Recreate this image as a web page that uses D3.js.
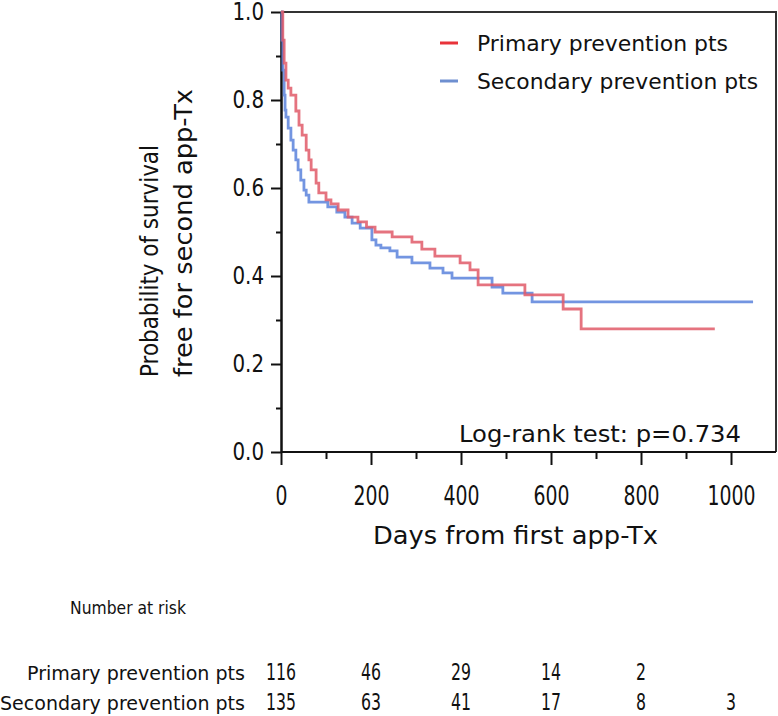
<!DOCTYPE html>
<html><head><meta charset="utf-8">
<script src="https://cdn.jsdelivr.net/npm/d3@7"></script>
<style>body{margin:0;background:#fff} svg{display:block}</style>
</head><body><svg id="c" width="778" height="716"></svg>
<script>
const seriesNames = ["Primary prevention pts", "Secondary prevention pts"];
const seriesColors = ["#e05a68", "#5a82dc"];
const legendColors = ["#e8333a", "#6e8fd0"];

const primaryDays = [0, 4, 7, 11, 16, 22, 33, 40, 47, 56, 62, 67, 78, 84, 100, 111, 127, 149, 171, 190, 209, 247, 291, 313, 342, 398, 420, 438, 542, 627, 667, 964];
const primarySurv = [1.0, 0.936, 0.884, 0.845, 0.827, 0.811, 0.775, 0.743, 0.720, 0.686, 0.664, 0.641, 0.611, 0.589, 0.573, 0.564, 0.550, 0.534, 0.523, 0.511, 0.500, 0.489, 0.477, 0.461, 0.445, 0.430, 0.414, 0.380, 0.357, 0.325, 0.280, 0.280];

const secondaryDays = [0, 2, 4, 7, 9, 11, 16, 22, 27, 33, 38, 44, 51, 56, 62, 104, 124, 142, 158, 176, 202, 211, 222, 242, 258, 291, 331, 360, 380, 469, 493, 558, 1049];
const secondarySurv = [1.0, 0.936, 0.868, 0.811, 0.777, 0.761, 0.736, 0.709, 0.686, 0.664, 0.641, 0.618, 0.595, 0.584, 0.568, 0.557, 0.545, 0.534, 0.520, 0.509, 0.482, 0.470, 0.464, 0.457, 0.443, 0.430, 0.418, 0.407, 0.395, 0.375, 0.361, 0.341, 0.341];

const xMajorTicks = [0, 200, 400, 600, 800, 1000];
const xMinorTicks = [100, 300, 500, 700, 900];
const yMajorTicks = [0, 0.2, 0.4, 0.6, 0.8, 1.0];
const yMinorTicks = [0.1, 0.3, 0.5, 0.7, 0.9];

const riskDays = [0, 200, 400, 600, 800, 1000];
const primaryRisk = [116, 46, 29, 14, 2, null];
const secondaryRisk = [135, 63, 41, 17, 8, 3];

const pValueText = "Log-rank test: p=0.734";
const xTitle = "Days from first app-Tx";
const yTitle = ["Probability of survival", "free for second app-Tx"];

const svg = d3.select("#c");
const L = 281, R = 776, T = 12, B = 452;
const x = d3.scaleLinear().domain([0, 1000]).range([L, 731]);
const y = d3.scaleLinear().domain([0, 1]).range([B, T]);

const numFont = "'DejaVu Sans Condensed','DejaVu Sans',sans-serif";
const txtFont = "'DejaVu Sans','Noto Sans',sans-serif";

function narrow(sel, perChar) {
  sel.each(function () {
    const t = d3.select(this).text();
    if (t) d3.select(this).attr("textLength", t.length * perChar).attr("lengthAdjust", "spacingAndGlyphs");
  });
}

svg.append("path").attr("d", `M${L},${T}H${R}V${B}`).attr("fill", "none").attr("stroke", "#333").attr("stroke-width", 2);

function styleAxis(g, fs) {
  g.select(".domain").attr("stroke", "#111").attr("stroke-width", 2);
  g.selectAll(".tick line").attr("stroke", "#111").attr("stroke-width", 2);
  g.selectAll(".tick text").attr("font-family", numFont).attr("font-size", fs).attr("fill", "#111");
}
const gy = svg.append("g").attr("transform", `translate(${L},0)`)
  .call(d3.axisLeft(y).tickValues(yMajorTicks).tickFormat(d3.format(".1f")).tickSize(10).tickSizeOuter(0).tickPadding(7));
styleAxis(gy, 24);
narrow(gy.selectAll(".tick text"), 10.5);
const gym = svg.append("g").attr("transform", `translate(${L},0)`)
  .call(d3.axisLeft(y).tickValues(yMinorTicks).tickFormat("").tickSize(5).tickSizeOuter(0));
styleAxis(gym, 24);
const gx = svg.append("g").attr("transform", `translate(0,${B})`)
  .call(d3.axisBottom(x).tickValues(xMajorTicks).tickFormat(d3.format("d")).tickSize(13).tickSizeOuter(0).tickPadding(22));
styleAxis(gx, 26);
narrow(gx.selectAll(".tick text"), 12);
gx.select(".domain").attr("d", `M${L},0H${R}`);
const gxm = svg.append("g").attr("transform", `translate(0,${B})`)
  .call(d3.axisBottom(x).tickValues(xMinorTicks).tickFormat("").tickSize(7).tickSizeOuter(0));
styleAxis(gxm, 26);
gxm.select(".domain").remove();

const line = d3.line().x(d => x(d[0])).y(d => y(d[1])).curve(d3.curveStepAfter);
const series = [
  d3.zip(primaryDays, primarySurv),
  d3.zip(secondaryDays, secondarySurv)
];
[1, 0].forEach(i => {
  svg.append("path").datum(series[i]).attr("d", line)
    .attr("fill", "none").attr("stroke", seriesColors[i]).attr("stroke-width", 2.8).attr("stroke-opacity", 0.85);
});

seriesNames.forEach((name, i) => {
  const ly = 43 + i * 38;
  svg.append("line").attr("x1", 440).attr("x2", 458).attr("y1", ly).attr("y2", ly)
    .attr("stroke", legendColors[i]).attr("stroke-width", 3);
  svg.append("text").attr("x", 477).attr("y", ly + 8).text(name)
    .attr("font-family", txtFont).attr("font-size", 22).attr("fill", "#111")
    .attr("textLength", i === 0 ? 251 : 281).attr("lengthAdjust", "spacingAndGlyphs");
});

svg.append("text").attr("x", 459).attr("y", 442).text(pValueText)
  .attr("font-family", txtFont).attr("font-size", 23).attr("fill", "#111")
  .attr("textLength", 282).attr("lengthAdjust", "spacingAndGlyphs");

svg.append("text").attr("x", 373).attr("y", 544).text(xTitle)
  .attr("font-family", txtFont).attr("font-size", 24).attr("fill", "#111")
  .attr("textLength", 285).attr("lengthAdjust", "spacingAndGlyphs");

yTitle.forEach((t, i) => {
  svg.append("text").attr("transform", `translate(${i === 0 ? 158 : 192},377) rotate(-90)`)
    .text(t).attr("font-family", txtFont).attr("font-size", 24).attr("fill", "#111")
    .attr("textLength", i === 0 ? 232 : 288).attr("lengthAdjust", "spacingAndGlyphs");
});

svg.append("text").attr("x", 70).attr("y", 614).text("Number at risk")
  .attr("font-family", txtFont).attr("font-size", 17).attr("fill", "#111")
  .attr("textLength", 116).attr("lengthAdjust", "spacingAndGlyphs");
const rows = [primaryRisk, secondaryRisk];
const rowY = [680, 710];
rows.forEach((vals, i) => {
  svg.append("text").attr("x", 245).attr("y", rowY[i]).attr("text-anchor", "end").text(seriesNames[i])
    .attr("font-family", txtFont).attr("font-size", 19).attr("fill", "#111")
    .attr("textLength", i === 0 ? 218 : 245).attr("lengthAdjust", "spacingAndGlyphs");
  const g = svg.append("g");
  g.selectAll("text").data(riskDays.map((d, j) => [d, vals[j]]).filter(d => d[1] != null))
    .join("text").attr("x", d => x(d[0])).attr("y", rowY[i]).attr("text-anchor", "middle")
    .text(d => d[1]).attr("font-family", numFont).attr("font-size", 23).attr("fill", "#111");
  narrow(g.selectAll("text"), 10);
});
</script></body></html>
